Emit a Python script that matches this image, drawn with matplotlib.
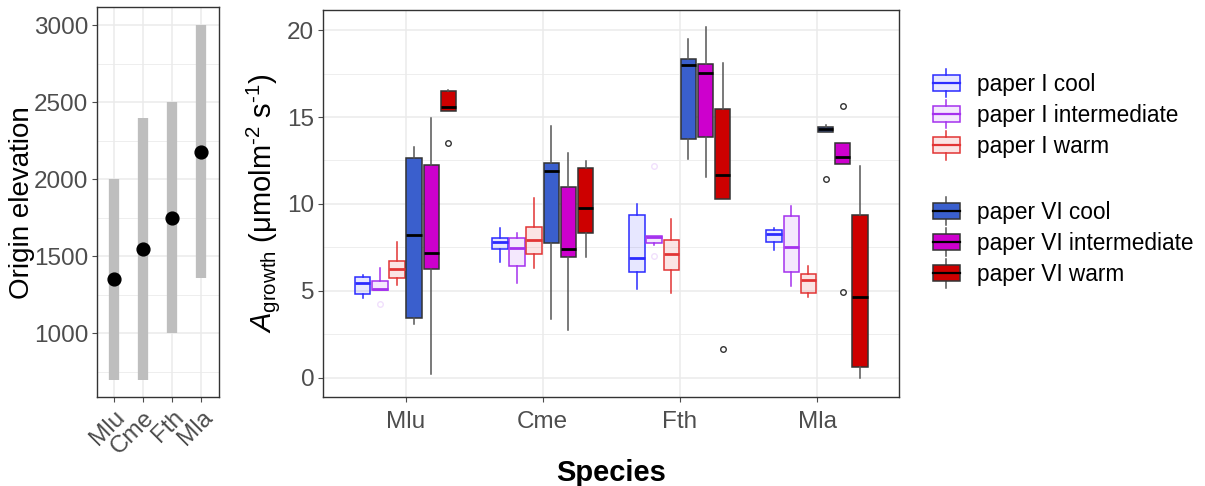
import matplotlib
matplotlib.use("Agg")
import matplotlib.pyplot as plt
import numpy as np
from matplotlib.legend_handler import HandlerBase
from matplotlib.patches import Rectangle
from matplotlib.lines import Line2D
from matplotlib.ticker import MultipleLocator

plt.rcParams['font.family'] = ['Liberation Sans', 'DejaVu Sans']
plt.rcParams['mathtext.fontset'] = 'custom'
plt.rcParams['mathtext.rm'] = 'Liberation Sans'
plt.rcParams['mathtext.it'] = 'Liberation Sans:italic'
plt.rcParams['mathtext.bf'] = 'Liberation Sans:bold'

# ---------------- data ----------------
species = ["Mlu", "Cme", "Fth", "Mla"]
elev_low = [700, 700, 1000, 1360]
elev_high = [2000, 2400, 2500, 3000]
elev_mean = [1350, 1550, 1750, 2175]

groups = ["paper I cool", "paper I intermediate", "paper I warm",
          "paper VI cool", "paper VI intermediate", "paper VI warm"]

# [whislo, q1, median, q3, whishi] per species (Mlu, Cme, Fth, Mla)
pI_cool = [[4.60, 4.82, 5.45, 5.78, 5.93], [6.67, 7.39, 7.81, 8.02, 8.60],
           [5.12, 6.10, 6.89, 9.34, 9.99], [7.33, 7.79, 8.27, 8.48, 8.60]]
pI_int = [[5.05, 5.05, 5.12, 5.58, 6.29], [5.47, 6.44, 7.48, 8.02, 8.31],
          [7.64, 7.73, 8.11, 8.17, 8.17], [5.29, 6.10, 7.52, 9.29, 9.86]]
pI_warm = [[5.33, 5.72, 6.24, 6.70, 7.79], [6.33, 7.10, 7.94, 8.65, 10.36],
           [4.89, 6.21, 7.12, 7.91, 9.11], [4.66, 4.87, 5.62, 5.98, 6.44]]
pVI_cool = [[3.09, 3.45, 8.19, 12.62, 13.29], [3.38, 7.73, 11.91, 12.34, 14.50],
            [12.57, 13.75, 17.99, 18.32, 19.47], [14.14, 14.14, 14.31, 14.42, 14.54]]
pVI_int = [[0.20, 6.27, 7.16, 12.24, 14.92], [2.73, 6.93, 7.42, 10.96, 12.95],
           [11.53, 13.85, 17.55, 18.03, 20.18], [12.30, 12.30, 12.70, 13.49, 13.49]]
pVI_warm = [[15.35, 15.35, 15.59, 16.48, 16.55], [6.93, 8.31, 9.78, 12.07, 12.47],
            [10.28, 10.28, 11.68, 15.46, 18.09], [-0.02, 0.63, 4.66, 9.34, 12.18]]

# outliers per species
pI_cool_out = [[], [], [], []]
pI_int_out = [[4.26], [], [12.18, 6.98], []]
pI_warm_out = [[], [], [], []]
pVI_cool_out = [[], [], [], [11.43]]
pVI_int_out = [[], [], [], [15.65, 4.91]]
pVI_warm_out = [[13.50], [], [1.67], []]

all_stats = [pI_cool, pI_int, pI_warm, pVI_cool, pVI_int, pVI_warm]
all_out = [pI_cool_out, pI_int_out, pI_warm_out, pVI_cool_out, pVI_int_out, pVI_warm_out]

# ---------------- styles ----------------
edge_cols = ['#2B2BFF', '#A431EE', '#E23434', '#333333', '#333333', '#333333']
face_cols = [(0.17, 0.17, 1.0, 0.11), (0.64, 0.19, 0.93, 0.11), (0.89, 0.2, 0.2, 0.13),
             '#3A5FCD', '#CD00CD', '#CD0000']
med_cols = ['#2B2BFF', '#A431EE', '#E23434', 'black', 'black', 'black']
out_cols = [(0.17, 0.17, 1.0, 0.15), (0.64, 0.19, 0.93, 0.15), (0.89, 0.2, 0.2, 0.15),
            '#333333', '#333333', '#333333']
whisk_cols = ['#2B2BFF', '#A431EE', '#E23434', '#555555', '#555555', '#555555']

tick_col = '#4D4D4D'
grid_col = '#EBEBEB'

fig = plt.figure(figsize=(12.05, 4.86), dpi=100)

# ---------------- left panel ----------------
ax1 = fig.add_axes([0.0802, 0.1825, 0.1015, 0.8025])
xpos = np.arange(1, len(species) + 1)
ax1.vlines(xpos, elev_low, elev_high, color='#BEBEBE', lw=7.4, zorder=2)
ax1.scatter(xpos, elev_mean, s=85, color='black', zorder=3)
ax1.set_xlim(0.4, 4.6)
ax1.set_ylim(585, 3115)
ax1.set_xticks(xpos)
ax1.set_xticklabels(species, rotation=45, ha='right', rotation_mode='anchor')
ax1.yaxis.set_major_locator(MultipleLocator(500))
ax1.yaxis.set_minor_locator(MultipleLocator(250))
ax1.set_ylabel("Origin elevation", fontsize=20, labelpad=-1.0)

# ---------------- main panel ----------------
ax2 = fig.add_axes([0.2683, 0.1838, 0.478, 0.7957])
offsets = [-0.3125, -0.1875, -0.0625, 0.0625, 0.1875, 0.3125]
for g in range(len(groups)):
    stats = []
    for s in range(len(species)):
        lo, q1, med, q3, hi = all_stats[g][s]
        stats.append(dict(whislo=lo, q1=q1, med=med, q3=q3, whishi=hi,
                          fliers=all_out[g][s]))
    pos = xpos + offsets[g]
    ax2.bxp(stats, positions=pos, widths=0.113, patch_artist=True,
            showcaps=False, manage_ticks=False,
            boxprops=dict(facecolor=face_cols[g], edgecolor=edge_cols[g], lw=1.1),
            medianprops=dict(color=med_cols[g], lw=2.0),
            whiskerprops=dict(color=whisk_cols[g], lw=1.1),
            flierprops=dict(marker='o', markerfacecolor='none',
                            markeredgecolor=out_cols[g], markersize=4, mew=1.0),
            zorder=3)
ax2.set_xlim(0.4, 4.6)
ax2.set_ylim(-1.09, 21.16)
ax2.set_xticks(xpos)
ax2.set_xticklabels(species)
ax2.yaxis.set_major_locator(MultipleLocator(5))
ax2.yaxis.set_minor_locator(MultipleLocator(2.5))
ax2.set_ylabel("$\\mathit{A}_{\\mathrm{growth}}$ (μmolm$^{\\mathrm{\u2010}2}$ s$^{\\mathrm{\u2010}1}$)",
               fontsize=21, labelpad=4)
ax2.set_xlabel("Species", fontsize=21, fontweight='bold', labelpad=19)

for ax in (ax1, ax2):
    ax.set_axisbelow(True)
    ax.grid(which='major', color=grid_col, lw=1.1)
    ax.grid(which='minor', axis='y', color=grid_col, lw=0.6)
    ax.tick_params(axis='both', which='major', labelsize=17.5, colors=tick_col,
                   length=3.5, width=0.8, pad=3)
    ax.tick_params(axis='y', which='minor', length=0)
    for sp in ax.spines.values():
        sp.set_color('#333333')
        sp.set_linewidth(1.0)
    for lab in ax.get_xticklabels() + ax.get_yticklabels():
        lab.set_color(tick_col)
ax2.tick_params(axis='x', which='major', pad=6.5)
ax1.tick_params(axis='y', which='major', pad=2.5)

# ---------------- legend ----------------
class BoxHandler(HandlerBase):
    def __init__(self, face, edge, med, whisk):
        super().__init__()
        self.face, self.edge, self.med, self.whisk = face, edge, med, whisk

    def create_artists(self, legend, orig_handle, xdescent, ydescent,
                       width, height, fontsize, trans):
        x0, y0 = -xdescent, -ydescent
        cx = x0 + width / 2
        ext = height * 0.4
        arts = [
            Line2D([cx, cx], [y0 - ext, y0], color=self.whisk, lw=1.1, transform=trans),
            Line2D([cx, cx], [y0 + height, y0 + height + ext], color=self.whisk, lw=1.1,
                   transform=trans),
            Rectangle((x0, y0), width, height, facecolor=self.face, edgecolor=self.edge,
                      lw=1.1, transform=trans),
            Line2D([x0, x0 + width], [y0 + height / 2] * 2, color=self.med, lw=1.6,
                   transform=trans),
        ]
        return arts

handles = [Rectangle((0, 0), 1, 1) for _ in groups]
hmap = {h: BoxHandler(face_cols[i], edge_cols[i], med_cols[i], whisk_cols[i])
        for i, h in enumerate(handles)}

leg_kw = dict(frameon=False, fontsize=16.3, handlelength=1.18, handleheight=0.7,
              handletextpad=0.75, labelspacing=0.36, borderpad=0, borderaxespad=0,
              loc='upper left')
leg1 = fig.legend(handles[:3], groups[:3], handler_map=hmap,
                  bbox_to_anchor=(933 / 1205, 1 - 73 / 486), **leg_kw)
leg2 = fig.legend(handles[3:], groups[3:], handler_map=hmap,
                  bbox_to_anchor=(933 / 1205, 1 - 201 / 486), **leg_kw)

fig.savefig("out.png", dpi=100)
